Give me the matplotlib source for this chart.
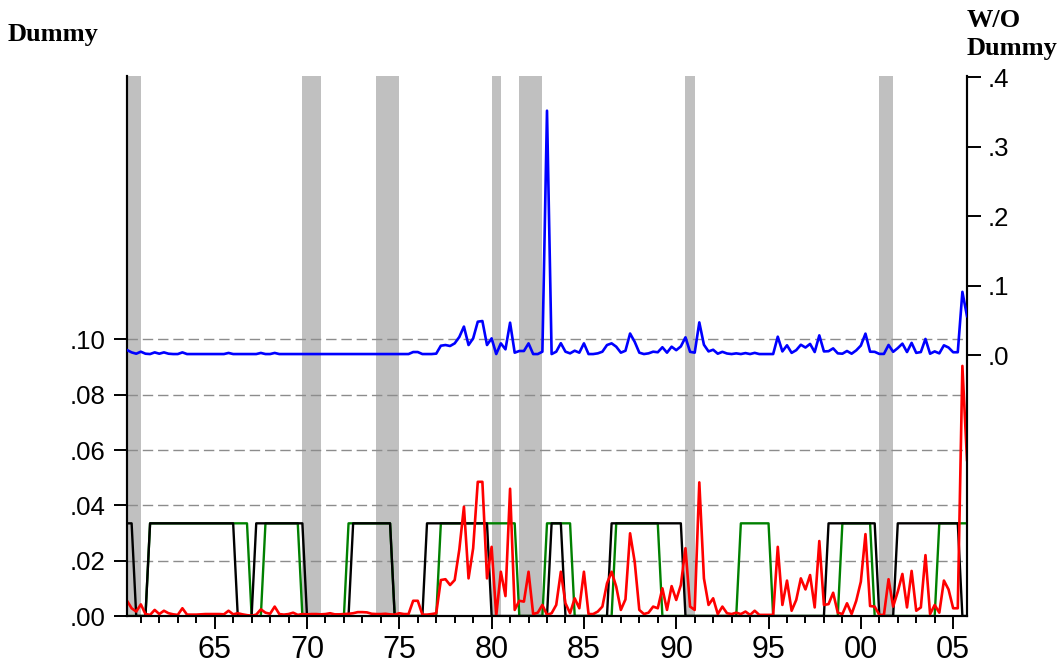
import matplotlib
matplotlib.use("Agg")
import matplotlib.pyplot as plt
import numpy as np
from matplotlib.ticker import FixedLocator, MultipleLocator

plt.rcParams["font.family"] = ["Liberation Sans", "DejaVu Sans"]
plt.rcParams["lines.scale_dashes"] = False

# quarterly sample, 1960Q2 .. 2005Q4 (one row per year)
first_obs = 1960.25

# model with dummy (left scale)
with_dummy = [
    0.0055, 0.0028, 0.0016,
    0.0042, 0.0007, 0.0004, 0.0022,
    0.0007, 0.0019, 0.0010, 0.0006,
    0.0004, 0.0028, 0.0005, 0.0005,
    0.0005, 0.0006, 0.0007, 0.0007,
    0.0007, 0.0007, 0.0006, 0.0019,
    0.0006, 0.0010, 0.0006, 0.0003,
    0.0001, 0.0005, 0.0024, 0.0012,
    0.0008, 0.0034, 0.0007, 0.0005,
    0.0007, 0.0012, 0.0004, 0.0007,
    0.0006, 0.0007, 0.0007, 0.0006,
    0.0007, 0.0010, 0.0006, 0.0006,
    0.0007, 0.0008, 0.0010, 0.0014,
    0.0014, 0.0013, 0.0008, 0.0007,
    0.0007, 0.0008, 0.0006, 0.0005,
    0.0010, 0.0007, 0.0007, 0.0055,
    0.0055, 0.0005, 0.0005, 0.0007,
    0.0010, 0.0130, 0.0133, 0.0112,
    0.0130, 0.0240, 0.0395, 0.0136,
    0.0245, 0.0485, 0.0485, 0.0136,
    0.0250, 0.0001, 0.0160, 0.0072,
    0.0460, 0.0022, 0.0055, 0.0052,
    0.0160, 0.0007, 0.0012, 0.0040,
    0.0004, 0.0010, 0.0040, 0.0160,
    0.0046, 0.0010, 0.0064, 0.0028,
    0.0160, 0.0007, 0.0007, 0.0016,
    0.0034, 0.0118, 0.0160, 0.0106,
    0.0022, 0.0060, 0.0299, 0.0196,
    0.0022, 0.0007, 0.0012, 0.0034,
    0.0028, 0.0100, 0.0022, 0.0108,
    0.0058, 0.0112, 0.0245, 0.0034,
    0.0022, 0.0483, 0.0136, 0.0040,
    0.0064, 0.0007, 0.0034, 0.0010,
    0.0007, 0.0012, 0.0007, 0.0016,
    0.0004, 0.0019, 0.0004, 0.0004,
    0.0004, 0.0004, 0.0250, 0.0040,
    0.0128, 0.0019, 0.0058, 0.0136,
    0.0096, 0.0148, 0.0031, 0.0271,
    0.0040, 0.0043, 0.0084, 0.0012,
    0.0007, 0.0046, 0.0007, 0.0055,
    0.0124, 0.0296, 0.0036, 0.0034,
    0.0004, 0.0004, 0.0133, 0.0034,
    0.0088, 0.0152, 0.0031, 0.0163,
    0.0019, 0.0031, 0.0220, 0.0007,
    0.0040, 0.0012, 0.0128, 0.0096,
    0.0028, 0.0028, 0.0904, 0.0564,
]

# model without dummy (right scale)
without_dummy = [
    0.0072, 0.0038, 0.0019,
    0.0048, 0.0019, 0.0014, 0.0038,
    0.0019, 0.0038, 0.0019, 0.0014,
    0.0014, 0.0038, 0.0014, 0.0014,
    0.0014, 0.0014, 0.0014, 0.0014,
    0.0014, 0.0014, 0.0014, 0.0030,
    0.0014, 0.0014, 0.0014, 0.0014,
    0.0014, 0.0014, 0.0030, 0.0014,
    0.0014, 0.0030, 0.0014, 0.0014,
    0.0014, 0.0014, 0.0014, 0.0014,
    0.0014, 0.0014, 0.0014, 0.0014,
    0.0014, 0.0014, 0.0014, 0.0014,
    0.0014, 0.0014, 0.0014, 0.0014,
    0.0014, 0.0014, 0.0014, 0.0014,
    0.0014, 0.0014, 0.0014, 0.0014,
    0.0014, 0.0014, 0.0014, 0.0043,
    0.0043, 0.0014, 0.0014, 0.0014,
    0.0020, 0.0134, 0.0144, 0.0130,
    0.0168, 0.0260, 0.0410, 0.0144,
    0.0240, 0.0480, 0.0490, 0.0144,
    0.0240, 0.0014, 0.0168, 0.0082,
    0.0466, 0.0034, 0.0058, 0.0058,
    0.0168, 0.0014, 0.0014, 0.0048,
    0.3520, 0.0014, 0.0048, 0.0170,
    0.0048, 0.0024, 0.0062, 0.0034,
    0.0168, 0.0014, 0.0014, 0.0024,
    0.0048, 0.0144, 0.0168, 0.0120,
    0.0034, 0.0062, 0.0310, 0.0190,
    0.0034, 0.0014, 0.0024, 0.0048,
    0.0040, 0.0112, 0.0034, 0.0120,
    0.0070, 0.0124, 0.0255, 0.0046,
    0.0034, 0.0470, 0.0148, 0.0052,
    0.0076, 0.0019, 0.0046, 0.0022,
    0.0014, 0.0024, 0.0014, 0.0028,
    0.0014, 0.0031, 0.0014, 0.0014,
    0.0014, 0.0014, 0.0264, 0.0052,
    0.0140, 0.0031, 0.0070, 0.0148,
    0.0108, 0.0160, 0.0043, 0.0283,
    0.0052, 0.0055, 0.0096, 0.0024,
    0.0019, 0.0058, 0.0019, 0.0067,
    0.0136, 0.0308, 0.0048, 0.0046,
    0.0016, 0.0016, 0.0145, 0.0046,
    0.0100, 0.0164, 0.0043, 0.0175,
    0.0031, 0.0043, 0.0232, 0.0019,
    0.0052, 0.0024, 0.0140, 0.0108,
    0.0040, 0.0040, 0.0910, 0.0560,
]

# regime dummies, 1 = on (one group per year)
dummy_level = 0.0335
black_dummy = ("110 0011 1111 1111 1111 1111 1000 0111 1111 1111 0000 0000 0011 "
               "1111 1110 0000 0011 1111 1111 1111 0000 0000 0000 0111 0000 0000 "
               "0011 1111 1111 1111 1100 0000 0000 0000 0000 0000 0000 0000 0111 "
               "1111 1111 0000 1111 1111 1111 1100")
green_dummy = ("000 0011 1111 1111 1111 1111 1111 0001 1111 1110 0000 0000 0111 "
               "1111 1110 0000 0000 0111 1111 1111 1111 1100 0000 1111 1100 0000 "
               "0001 1111 1111 1000 0000 0000 0000 0011 1111 1000 0000 0000 0000 "
               "1111 1110 0000 0000 0000 0111 1111")

# recessions (first and last quarter)
rec_start = [1960.25, 1969.75, 1973.75, 1980.0, 1981.5, 1990.5, 2001.0]
rec_end = [1961.0, 1970.75, 1975.0, 1980.5, 1982.75, 1991.0, 2001.75]

left_ticks = [0.0, 0.02, 0.04, 0.06, 0.08, 0.10]
left_labels = [".00", ".02", ".04", ".06", ".08", ".10"]
right_ticks = [0.0, 0.1, 0.2, 0.3, 0.4]
right_labels = [".0", ".1", ".2", ".3", ".4"]
year_ticks = [1965, 1970, 1975, 1980, 1985, 1990, 1995, 2000, 2005]
year_labels = ["65", "70", "75", "80", "85", "90", "95", "00", "05"]

black_vals = np.array([int(c) for c in black_dummy.replace(" ", "")]) * dummy_level
green_vals = np.array([int(c) for c in green_dummy.replace(" ", "")]) * dummy_level
t = first_obs + 0.25 * np.arange(len(with_dummy))

fig = plt.figure(figsize=(10.63, 6.67), dpi=100)
ax = fig.add_axes([127 / 1063, 1 - 616 / 667, 840 / 1063, 540 / 667])
ax2 = ax.twinx()

for s, e in zip(rec_start, rec_end):
    ax.axvspan(s, e, color="#c0c0c0", lw=0, zorder=0)

for v in left_ticks[1:]:
    ax.axhline(v, color="#8c8c8c", lw=1.0, dashes=(7.5, 3.5), zorder=1)

ax.plot(t, green_vals, color="#008000", lw=1.7, zorder=3)
ax.plot(t, black_vals, color="black", lw=1.7, zorder=4)
ax.plot(t, with_dummy, color="red", lw=1.9, zorder=5)
ax2.plot(t, without_dummy, color="blue", lw=1.9, zorder=5)

ax.set_xlim(first_obs, t[-1])
ax.set_ylim(0, 0.1952)
ax2.set_ylim(-0.376, 0.402)

ax.yaxis.set_major_locator(FixedLocator(left_ticks))
ax.set_yticklabels(left_labels)
ax2.yaxis.set_major_locator(FixedLocator(right_ticks))
ax2.set_yticklabels(right_labels)
ax.xaxis.set_major_locator(FixedLocator(year_ticks))
ax.set_xticklabels(year_labels)
ax.xaxis.set_minor_locator(MultipleLocator(1))

for a in (ax, ax2):
    a.spines["top"].set_visible(False)
    for sp in ("left", "right", "bottom"):
        a.spines[sp].set_linewidth(1.5)
        a.spines[sp].set_color("black")

ax.tick_params(axis="y", direction="out", length=9.5, width=1.4, pad=6, labelsize=18.5)
ax2.tick_params(axis="y", direction="out", length=10, width=1.4, pad=5, labelsize=18.5)
ax.tick_params(axis="x", which="major", direction="out", length=9.5, width=1.4, pad=4, labelsize=22)
ax.tick_params(axis="x", which="minor", direction="out", length=5, width=1.4)

title_font = dict(family="Liberation Serif", fontweight="bold", fontsize=19)
fig.text(8 / 1063, 1 - 41 / 667, "Dummy", ha="left", va="baseline", **title_font)
fig.text(967 / 1063, 1 - 27 / 667, "W/O", ha="left", va="baseline", **title_font)
fig.text(967 / 1063, 1 - 55 / 667, "Dummy", ha="left", va="baseline", **title_font)

fig.savefig("out.png", dpi=100)
